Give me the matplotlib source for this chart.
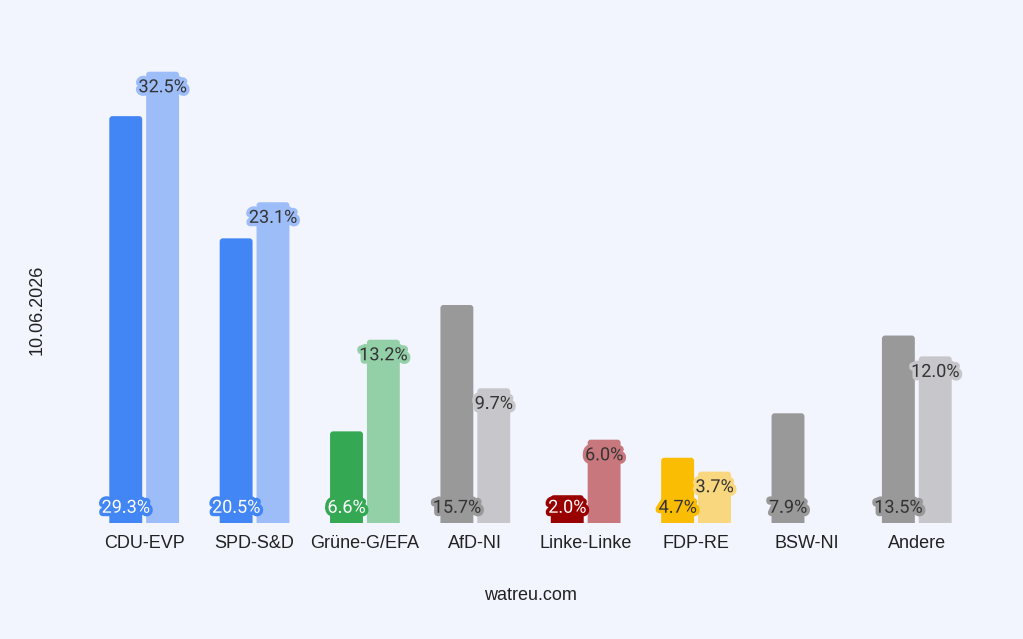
import numpy as np
import matplotlib.pyplot as plt
import matplotlib.patheffects as pe
from matplotlib.patches import FancyBboxPatch

parties = ["CDU-EVP", "SPD-S&D", "Grüne-G/EFA", "AfD-NI", "Linke-Linke", "FDP-RE", "BSW-NI", "Andere"]
poll = [29.3, 20.5, 6.6, 15.7, 2.0, 4.7, 7.9, 13.5]
prev = [32.5, 23.1, 13.2, 9.7, 6.0, 3.7, None, 12.0]

dark_colors = ["#4285f4", "#4285f4", "#34a853", "#999999", "#990000", "#fbbc04", "#999999", "#999999"]
light_colors = ["#9dbdf9", "#9dbdf9", "#93d0a8", "#c6c6cb", "#c8777c", "#f9d77e", "#c6c6cb", "#c6c6cb"]
dark_text = ["white", "white", "white", "#333333", "white", "#333333", "#333333", "#333333"]

bg = "#f2f4fe"
fig = plt.figure(figsize=(10.23, 6.39), dpi=100, facecolor=bg)
ax = fig.add_axes([89 / 1023, 1 - 523 / 639, (972 - 89) / 1023, (523 - 37) / 639])
ax.set_facecolor(bg)

x = np.arange(len(parties))
w = 0.298
off = 0.167


def round_tops(bars):
    # swap the plain rectangles for ones with slightly rounded corners
    for b in bars:
        b.set_visible(False)
        h = b.get_height()
        p = FancyBboxPatch((b.get_x(), -0.5), b.get_width(), h + 0.5,
                           boxstyle="round,pad=0,rounding_size=0.028",
                           mutation_aspect=7.8, facecolor=b.get_facecolor(),
                           edgecolor="none", clip_on=True)
        ax.add_patch(p)
        p.set_clip_path(ax.patch)


round_tops(ax.bar(x - off, poll, width=w, color=dark_colors))
for i, v in enumerate(prev):
    if v is None:
        continue
    round_tops(ax.bar(x[i] + off, v, width=w, color=light_colors[i]))

ax.set_xlim(-0.5, len(parties) - 0.5)
ax.set_ylim(0, 35)

# labels of current poll at the base of the bars
for i, v in enumerate(poll):
    t = ax.text(x[i] - off, 1.1, f"{v:.1f}%", ha="center", va="center",
                fontsize=13, family=["Roboto", "DejaVu Sans"], color=dark_text[i], zorder=5)
    t.set_path_effects([pe.withStroke(linewidth=5, foreground=dark_colors[i])])

# labels of the previous result just below the top
for i, v in enumerate(prev):
    if v is None:
        continue
    t = ax.text(x[i] + off, v - 1.12, f"{v:.1f}%", ha="center", va="center",
                fontsize=13, family=["Roboto", "DejaVu Sans"], color="#333333", zorder=5)
    t.set_path_effects([pe.withStroke(linewidth=5, foreground=light_colors[i])])

for s in ax.spines.values():
    s.set_visible(False)
ax.set_yticks([])
ax.set_xticks(x)
ax.set_xticklabels(parties, fontsize=13, family="Liberation Sans", color="#222222")
ax.tick_params(axis="x", length=0, pad=9)

fig.text(37 / 1023, 1 - 310 / 639, "10.06.2026", rotation=90, ha="center", va="center",
         fontsize=13, family="Liberation Sans", color="#222222")
fig.text(530 / 1023, 1 - 595 / 639, "watreu.com", ha="center", va="center",
         fontsize=13, family="Liberation Sans", color="#222222")

fig.savefig("out.png", dpi=100, facecolor=bg)
